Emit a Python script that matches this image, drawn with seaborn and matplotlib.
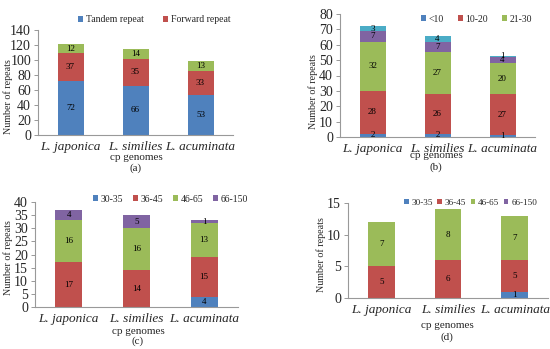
import matplotlib
matplotlib.use("Agg")
import matplotlib.pyplot as plt
import seaborn as sns
import numpy as np
from matplotlib.patches import Patch

sns.set_style("white")
plt.rcParams['font.family'] = ['Liberation Serif', 'DejaVu Serif']

species = ["L. japonica", "L. similies", "L. acuminata"]

# Panel (a)
a_labels = ["Tandem repeat", "Forward repeat", "Palindromic repeat"]
a_tandem = [72, 66, 53]
a_forward = [37, 35, 33]
a_palin = [12, 14, 13]

# Panel (b)
b_labels = ["<10", "10-20", "21-30", "31-40", ">40"]
b_lt10 = [2, 2, 1]
b_10_20 = [28, 26, 27]
b_21_30 = [32, 27, 20]
b_31_40 = [7, 7, 4]
b_gt40 = [3, 4, 1]

# Panel (c)
c_labels = ["30-35", "36-45", "46-65", "66-150"]
c_30_35 = [0, 0, 4]
c_36_45 = [17, 14, 15]
c_46_65 = [16, 16, 13]
c_66_150 = [4, 5, 1]

# Panel (d)
d_labels = ["30-35", "36-45", "46-65", "66-150"]
d_30_35 = [0, 0, 1]
d_36_45 = [5, 6, 5]
d_46_65 = [7, 8, 7]
d_66_150 = [0, 0, 0]

colors = ["#4F81BD", "#C0504D", "#9BBB59", "#8064A2", "#4BACC6"]

W, H = 550, 349
fig = plt.figure(figsize=(5.5, 3.49), dpi=100)


def px_axes(x0, x1, ytop, ybot):
    return fig.add_axes([x0 / W, 1 - ybot / H, (x1 - x0) / W, (ybot - ytop) / H])


def stacked(ax, layers, ymax, step, ylab_dx, ylab_cy, ytop, ybot, val_fs=6.5):
    cums = np.cumsum(np.array(layers, dtype=float), axis=0)
    n = len(layers)
    for i in range(n - 1, -1, -1):
        sns.barplot(x=species, y=cums[i], color=colors[i], saturation=1,
                    width=0.4, ax=ax, linewidth=0, errorbar=None)
    for i in range(n):
        for j in range(len(species)):
            v = layers[i][j]
            if v > 0:
                bottom = cums[i][j] - v
                ax.text(j, bottom + v / 2, str(v), ha="center", va="center",
                        fontsize=val_fs, color="black")
    ax.set_ylim(0, ymax)
    ax.set_xlim(-0.5, 2.5)
    ax.set_yticks(np.arange(0, ymax + 0.01, step))
    ax.tick_params(axis="y", labelsize=10, length=3, width=0.6, color="#888888",
                   direction="out", left=True, pad=2)
    ax.tick_params(axis="x", labelsize=9.5, length=0, pad=4)
    for lab in ax.get_xticklabels():
        lab.set_fontstyle("italic")
    for s in ["top", "right"]:
        ax.spines[s].set_visible(False)
    for s in ["left", "bottom"]:
        ax.spines[s].set_color("#999999")
        ax.spines[s].set_linewidth(0.8)
    ax.set_ylabel("Number of repeats", fontsize=7.2)
    bbox = ax.get_position()
    axw_px = bbox.width * W
    axh_px = bbox.height * H
    ax.yaxis.set_label_coords(ylab_dx / axw_px, (ybot - ylab_cy) / axh_px)
    ax.set_xlabel("")


def fig_text(xp, yp, s, fs=8):
    fig.text(xp / W, 1 - yp / H, s, ha="center", va="center", fontsize=fs)


def legend(labels, ncol, xp, yp, n, cs, fs=7):
    handles = [Patch(facecolor=colors[i], edgecolor="none") for i in range(n)]
    fig.legend(handles, labels[:n], loc="center left", bbox_to_anchor=(xp / W, 1 - yp / H),
               ncol=ncol, frameon=False, fontsize=fs, handlelength=0.5,
               handleheight=0.5, handletextpad=0.3, columnspacing=cs,
               borderpad=0, borderaxespad=0)


# (a)
axa = px_axes(38, 233, 30, 135)
stacked(axa, [a_tandem, a_forward, a_palin], 140, 20, -25, 97, 30, 135)
legend(a_labels, 2, 78, 20, 2, 2.0)
fig_text(136, 157, "cp genomes")
fig_text(136, 168, "(a)")

# (b)
axb = px_axes(340, 535, 14, 137)
stacked(axb, [b_lt10, b_10_20, b_21_30, b_31_40, b_gt40], 80, 10, -22, 92, 14, 137)
legend(b_labels, 3, 421, 19, 3, 1.4)
fig_text(436, 156, "cp genomes")
fig_text(436, 167, "(b)")

# (c)
axc = px_axes(35, 238, 202, 307)
stacked(axc, [c_30_35, c_36_45, c_46_65, c_66_150], 40, 5, -22, 258, 202, 307)
legend(c_labels, 4, 93, 199, 4, 1.0)
fig_text(138, 331, "cp genomes")
fig_text(138, 341, "(c)")

# (d)
axd = px_axes(348, 548, 203, 298)
stacked(axd, [d_30_35, d_36_45, d_46_65, d_66_150], 15, 5, -22, 255, 203, 298)
legend(d_labels, 4, 404, 203, 4, 0.5, fs=6.6)
fig_text(447, 325, "cp genomes")
fig_text(447, 337, "(d)")

fig.savefig("out.png", dpi=100)
